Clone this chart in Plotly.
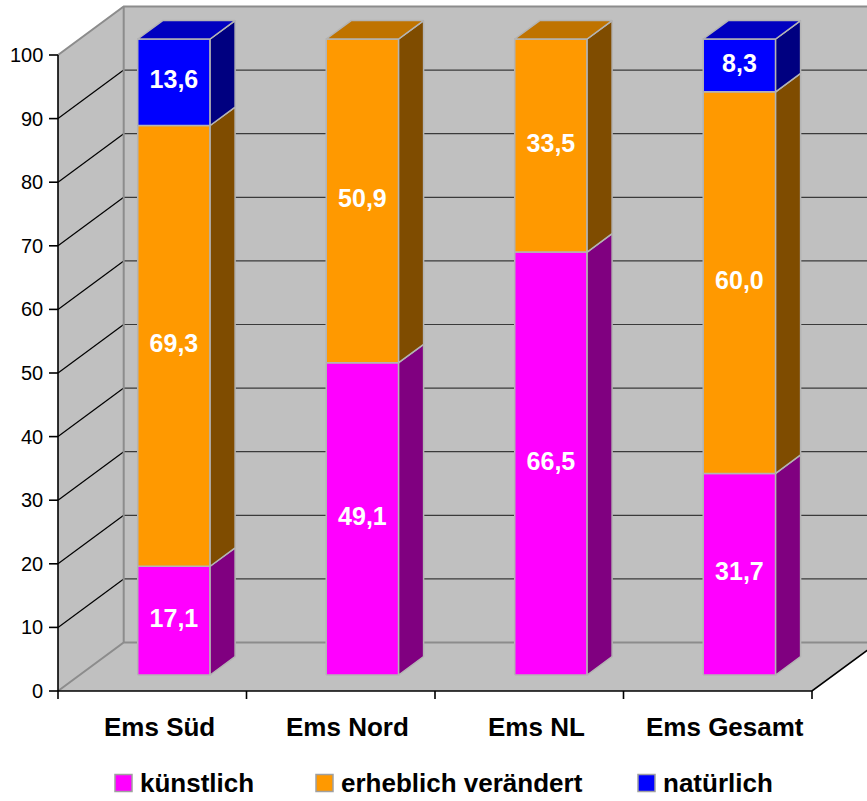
import plotly.graph_objects as go

# ---------------- data ----------------
categories = ["Ems Süd", "Ems Nord", "Ems NL", "Ems Gesamt"]
series_names = ["künstlich", "erheblich verändert", "natürlich"]
kuenstlich = [17.1, 49.1, 66.5, 31.7]
erheblich = [69.3, 50.9, 33.5, 60.0]
natuerlich = [13.6, 0.0, 0.0, 8.3]
y_ticks = [0, 10, 20, 30, 40, 50, 60, 70, 80, 90, 100]

series_values = [kuenstlich, erheblich, natuerlich]

# ---------------- styles ----------------
front_colors = ["#FF00FF", "#FF9900", "#0000FF"]
side_colors = ["#800080", "#7F4C00", "#000080"]
top_colors = ["#C000C0", "#BF7300", "#0000C0"]
WALL = "#C0C0C0"
EDGE = "#8C8C8C"
FACE_EDGE = "#B4B4B4"
FONT = "Arial, 'Liberation Sans', sans-serif"

W, H = 867, 801
PXX = 188.5          # pixels per category unit
PXY = 6.36           # pixels per value unit
ORIG_X, ORIG_Y = 58, 691   # pixel position of front-left floor corner
X_RANGE = [-0.5 - ORIG_X / PXX, -0.5 + (W - ORIG_X) / PXX]
Y_RANGE = [-(H - ORIG_Y) / PXY, ORIG_Y / PXY]
DX = 65.7 / PXX      # depth vector (full wall depth) in data units
DY = 48.5 / PXY
BAR_W = 0.384
D_FRONT, D_BACK = 0.33, 0.71
XMIN, XMAX = -0.5, len(categories) - 0.5
YMAX = 100


def P(x, y, d):
    return x + d * DX, y + d * DY


def poly(points):
    xs = [p[0] for p in points] + [points[0][0]]
    ys = [p[1] for p in points] + [points[0][1]]
    return xs, ys


def fill_trace(points, color, line_color=None, width=0):
    xs, ys = poly(points)
    return go.Scatter(x=xs, y=ys, mode="lines", fill="toself", fillcolor=color,
                      line=dict(color=line_color or color, width=width),
                      hoverinfo="skip", showlegend=False)


def line_trace(segments, color, width):
    xs, ys = [], []
    for seg in segments:
        for p in seg:
            xs.append(p[0]); ys.append(p[1])
        xs.append(None); ys.append(None)
    return go.Scatter(x=xs, y=ys, mode="lines", line=dict(color=color, width=width),
                      hoverinfo="skip", showlegend=False)


fig = go.Figure()

# walls and floor
fig.add_trace(fill_trace([P(XMIN, 0, 1), P(XMAX + 1, 0, 1), P(XMAX + 1, YMAX, 1), P(XMIN, YMAX, 1)], WALL))
fig.add_trace(fill_trace([P(XMIN, 0, 0), P(XMIN, 0, 1), P(XMIN, YMAX, 1), P(XMIN, YMAX, 0)], WALL))
fig.add_trace(fill_trace([P(XMIN, 0, 0), P(XMAX, 0, 0), P(XMAX, 0, 1), P(XMIN, 0, 1)], WALL))

# gridlines
inner = [v for v in y_ticks if 0 < v < YMAX]
fig.add_trace(line_trace([[P(XMIN, v, 1), P(XMAX + 1, v, 1)] for v in inner], "#3A3A3A", 1.2))
fig.add_trace(line_trace([[P(XMIN, v, 0), P(XMIN, v, 1)] for v in inner], "#000000", 1.2))

# grey wall edges
fig.add_trace(line_trace([
    [P(XMIN, 0, 0), P(XMIN, 0, 1), P(XMAX + 1, 0, 1)],
    [P(XMIN, 0, 1), P(XMIN, YMAX, 1)],
    [P(XMIN, YMAX, 0), P(XMIN, YMAX, 1), P(XMAX + 1, YMAX, 1)],
], EDGE, 2))

# black axes
tick_len_x = 9 / PXX
tick_len_y = 8 / PXY
fig.add_trace(line_trace([
    [P(XMIN, 0, 0), P(XMIN, YMAX, 0)],
    [P(XMIN, 0, 0), P(XMAX, 0, 0), P(XMAX, 0, 1)],
] + [[(XMIN - tick_len_x, v), (XMIN, v)] for v in y_ticks]
  + [[(XMIN + k, 0), (XMIN + k, -tick_len_y)] for k in range(len(categories) + 1)],
    "#000000", 1.6))

# bars
label_x, label_y, label_t = [[] for _ in series_names], [[] for _ in series_names], [[] for _ in series_names]
for i in range(len(categories)):
    base = 0.0
    vals = [s[i] for s in series_values]
    top_idx = max(k for k, v in enumerate(vals) if v > 0)
    for k, v in enumerate(vals):
        if v <= 0:
            continue
        top = base + v
        xl, xr = i - BAR_W / 2, i + BAR_W / 2
        fig.add_trace(fill_trace([P(xl, base, D_FRONT), P(xr, base, D_FRONT), P(xr, top, D_FRONT), P(xl, top, D_FRONT)],
                                 front_colors[k], FACE_EDGE, 1.5))
        fig.add_trace(fill_trace([P(xr, base, D_FRONT), P(xr, base, D_BACK), P(xr, top, D_BACK), P(xr, top, D_FRONT)],
                                 side_colors[k], FACE_EDGE, 1.5))
        if k == top_idx:
            fig.add_trace(fill_trace([P(xl, top, D_FRONT), P(xr, top, D_FRONT), P(xr, top, D_BACK), P(xl, top, D_BACK)],
                                     top_colors[k], FACE_EDGE, 1.5))
        cx, cy = P(i, base + v / 2, D_FRONT)
        label_x[k].append(cx); label_y[k].append(cy)
        label_t[k].append(f"{v:.1f}".replace(".", ","))
        base = top

for k in range(len(series_names)):
    fig.add_trace(go.Scatter(x=label_x[k], y=label_y[k], text=label_t[k], mode="text",
                             textposition="middle center",
                             textfont=dict(family=FONT, size=25, color="white", weight="bold"),
                             hoverinfo="skip", showlegend=False, name=series_names[k]))

annotations = []
# y tick labels
for v in y_ticks:
    annotations.append(dict(x=XMIN, y=v, xref="x", yref="y", text=str(v), showarrow=False,
                            xanchor="right", yanchor="middle", xshift=-13,
                            font=dict(family=FONT, size=20, color="black")))
# category labels
cat_y = (ORIG_Y - 727) / PXY
for i, c in enumerate(categories):
    annotations.append(dict(x=i, y=cat_y, xref="x", yref="y", text=c, showarrow=False,
                            xanchor="center", yanchor="middle", xshift=7,
                            font=dict(family=FONT, size=26, color="black", weight="bold")))

# legend (manual)
legend_sq_px = [123.5, 324.5, 646.5]
legend_y = (ORIG_Y - 783) / PXY
for k, name in enumerate(series_names):
    lx = (legend_sq_px[k] - ORIG_X) / PXX - 0.5
    fig.add_trace(go.Scatter(x=[lx], y=[legend_y], mode="markers",
                             marker=dict(symbol="square", size=17, color=front_colors[k],
                                         line=dict(color="#A0A0A0", width=1.5)),
                             hoverinfo="skip", showlegend=False, name=name))
    annotations.append(dict(x=lx, y=legend_y, xref="x", yref="y", text=name, showarrow=False,
                            xanchor="left", yanchor="middle", xshift=14,
                            font=dict(family=FONT, size=26, color="black", weight="bold")))

fig.update_layout(
    width=W, height=H,
    margin=dict(l=0, r=0, t=0, b=0),
    paper_bgcolor="white", plot_bgcolor="white",
    xaxis=dict(visible=False, range=X_RANGE, fixedrange=True),
    yaxis=dict(visible=False, range=Y_RANGE, fixedrange=True),
    showlegend=False,
    annotations=annotations,
)

fig.write_html("out.html")
